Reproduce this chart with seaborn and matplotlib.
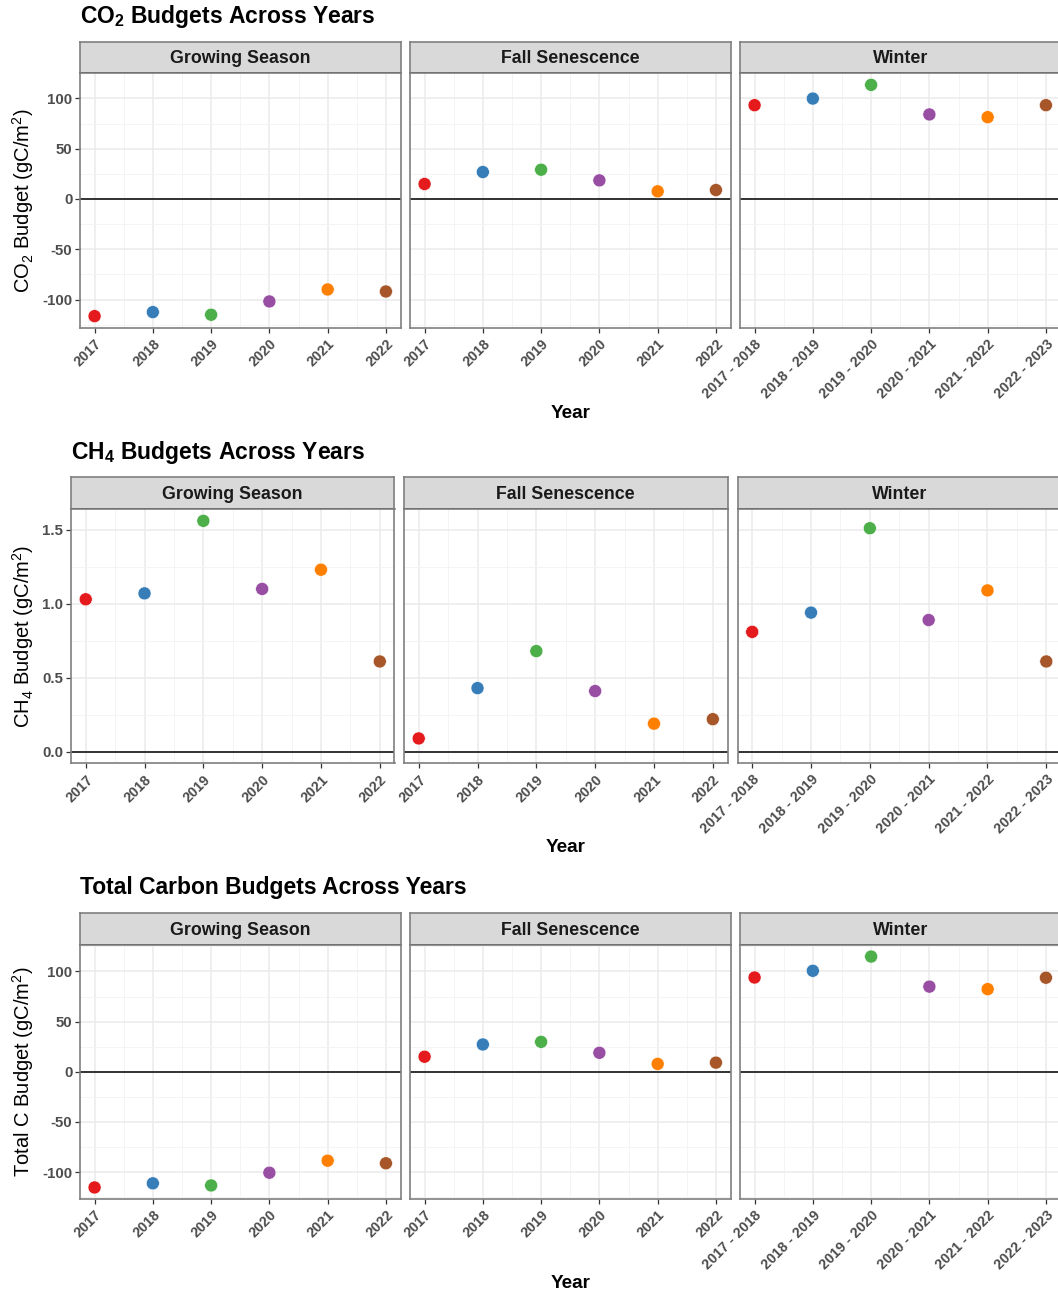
import numpy as np
import pandas as pd
import matplotlib.pyplot as plt
import matplotlib.ticker as mticker
import seaborn as sns

# ---------------------------------------------------------------
# Data
# ---------------------------------------------------------------
seasons = ["Growing Season", "Fall Senescence", "Winter"]
years = [2017, 2018, 2019, 2020, 2021, 2022]
year_labels = ["2017", "2018", "2019", "2020", "2021", "2022"]
winter_labels = ["2017 - 2018", "2018 - 2019", "2019 - 2020",
                 "2020 - 2021", "2021 - 2022", "2022 - 2023"]

co2_growing = [-116.4, -112.4, -115.0, -101.8, -89.9, -91.9]
co2_fall = [14.9, 26.8, 29.1, 18.5, 7.6, 8.9]
co2_winter = [93.2, 99.8, 113.4, 84.0, 81.3, 93.2]

ch4_growing = [1.03, 1.07, 1.56, 1.10, 1.23, 0.61]
ch4_fall = [0.09, 0.43, 0.68, 0.41, 0.19, 0.22]
ch4_winter = [0.81, 0.94, 1.51, 0.89, 1.09, 0.61]

tot_growing = [-115.4, -111.3, -113.4, -100.7, -88.7, -91.3]
tot_fall = [15.0, 27.2, 29.8, 18.9, 7.8, 9.1]
tot_winter = [94.0, 100.7, 114.9, 84.9, 82.4, 93.8]

# Set1 palette, one colour per year
year_colors = ["#E41A1C", "#377EB8", "#4DAF4A", "#984EA3", "#FF7F00", "#A65628"]

budgets = {
    "CO2": [co2_growing, co2_fall, co2_winter],
    "CH4": [ch4_growing, ch4_fall, ch4_winter],
    "Total": [tot_growing, tot_fall, tot_winter],
}

rows = []
for gas, series in budgets.items():
    for season, vals in zip(seasons, series):
        for yr, v in zip(years, vals):
            rows.append({"gas": gas, "season": season, "year": yr, "budget": v})
df = pd.DataFrame(rows)

# ---------------------------------------------------------------
# Style
# ---------------------------------------------------------------
sns.set_theme(style="white")
plt.rcParams["font.family"] = ["Liberation Sans", "DejaVu Sans"]
plt.rcParams["mathtext.fontset"] = "custom"
plt.rcParams["mathtext.rm"] = "Liberation Sans"
plt.rcParams["mathtext.it"] = "Liberation Sans:italic"
plt.rcParams["mathtext.bf"] = "Liberation Sans:bold"
plt.rcParams["mathtext.default"] = "regular"
plt.rcParams["axes.unicode_minus"] = False
plt.rcParams["text.color"] = "black"

W, H = 1058, 1297
fig = plt.figure(figsize=(W / 100, H / 100), dpi=100)


def place(l, t, r, b):
    # axes from pixel box (origin top-left)
    return fig.add_axes([l / W, 1 - b / H, (r - l) / W, (b - t) / H])


layout = [
    dict(gas="CO2", title="CO$_2$ Budgets Across Years", ylabel="CO$_2$ Budget (gC/m$^2$)",
         lefts=[80, 410, 740], width=320.5, top=41.7, strip=31.6, bottom=327.7,
         title_y=16.5, step=50, fmt="%d", year_y=413),
    dict(gas="CH4", title="CH$_4$ Budgets Across Years", ylabel="CH$_4$ Budget (gC/m$^2$)",
         lefts=[71, 404, 737.5], width=323.5, top=477.3, strip=32.0, bottom=763.3,
         title_y=452.5, step=0.5, fmt="%.1f", year_y=848),
    dict(gas="Total", title="Total Carbon Budgets Across Years", ylabel="Total C Budget (gC/m$^2$)",
         lefts=[80, 410, 740], width=320.5, top=913.3, strip=31.7, bottom=1199,
         title_y=887.5, step=50, fmt="%d", year_y=1284),
]

GRID = "#EBEBEB"
BORDER = "#7F7F7F"
TICKC = "#4D4D4D"

for cfg in layout:
    sub_gas = df[df["gas"] == cfg["gas"]]
    lo = min(sub_gas["budget"].min(), 0)
    hi = max(sub_gas["budget"].max(), 0)
    pad = (hi - lo) * 0.05
    ylim = (lo - pad, hi + pad)

    for i, season in enumerate(seasons):
        left = cfg["lefts"][i]
        right = left + cfg["width"]
        ptop = cfg["top"] + cfg["strip"]

        # strip
        sax = place(left, cfg["top"], right, ptop)
        sax.set_facecolor("#D9D9D9")
        sax.set_xticks([])
        sax.set_yticks([])
        for side in ["top", "left", "right"]:
            sax.spines[side].set_color(BORDER)
            sax.spines[side].set_linewidth(1.2)
        sax.spines["bottom"].set_color("#333333")
        sax.spines["bottom"].set_linewidth(1.4)
        sax.text(0.5, 0.47, season, ha="center", va="center", fontsize=12.8,
                 fontweight="bold", color="#1A1A1A", transform=sax.transAxes)

        # panel
        ax = place(left, ptop, right, cfg["bottom"])
        sub = sub_gas[sub_gas["season"] == season]
        ax.axhline(0, color="black", lw=1.1, zorder=2)
        sns.scatterplot(data=sub, x="year", y="budget", hue="year",
                        palette=dict(zip(years, year_colors)), s=88,
                        edgecolor="white", linewidth=0.4, legend=False,
                        ax=ax, zorder=3)

        ax.set_xlim(years[0] - 0.25, years[-1] + 0.25)
        ax.set_ylim(*ylim)
        ax.set_xticks(years)
        ax.xaxis.set_minor_locator(mticker.FixedLocator([y + 0.5 for y in years[:-1]]))
        ax.yaxis.set_major_locator(mticker.MultipleLocator(cfg["step"]))
        ax.yaxis.set_minor_locator(mticker.MultipleLocator(cfg["step"] / 2))
        ax.grid(which="major", color=GRID, lw=1.1)
        ax.grid(which="minor", color="#F3F3F3", lw=0.6)
        ax.set_axisbelow(True)

        labels = winter_labels if season == "Winter" else year_labels
        ax.set_xticklabels(labels, rotation=45, ha="right", va="top",
                           rotation_mode="anchor", fontweight="bold",
                           color=TICKC, fontsize=10.3)
        ax.tick_params(axis="x", which="major", bottom=True, length=3.5,
                       width=0.9, color="#333333", pad=3)
        ax.tick_params(axis="both", which="minor", length=0)
        if i == 0:
            ax.yaxis.set_major_formatter(mticker.FormatStrFormatter(cfg["fmt"]))
            ax.tick_params(axis="y", which="major", left=True, length=3.5,
                           width=0.9, color="#333333", pad=2,
                           labelsize=10.8, labelcolor=TICKC)
            for t in ax.get_yticklabels():
                t.set_fontweight("bold")
        else:
            ax.tick_params(axis="y", left=False, labelleft=False)
        ax.set_xlabel("")
        ax.set_ylabel("")
        for s in ax.spines.values():
            s.set_color(BORDER)
            s.set_linewidth(1.2)

    # row texts
    fig.text(cfg["lefts"][0] / W, 1 - cfg["title_y"] / H, cfg["title"],
             ha="left", va="center", fontsize=16.5, fontweight="bold",
             color="black")
    mid_y = (cfg["top"] + cfg["strip"] + cfg["bottom"]) / 2
    fig.text(23 / W, 1 - mid_y / H, cfg["ylabel"], rotation=90,
             ha="center", va="center", fontsize=14.5, color="black")
    x_mid = (cfg["lefts"][0] + cfg["lefts"][2] + cfg["width"]) / 2
    fig.text(x_mid / W, 1 - cfg["year_y"] / H, "Year", ha="center",
             va="center", fontsize=13.6, fontweight="bold", color="black")

fig.savefig("out.png", dpi=100)
